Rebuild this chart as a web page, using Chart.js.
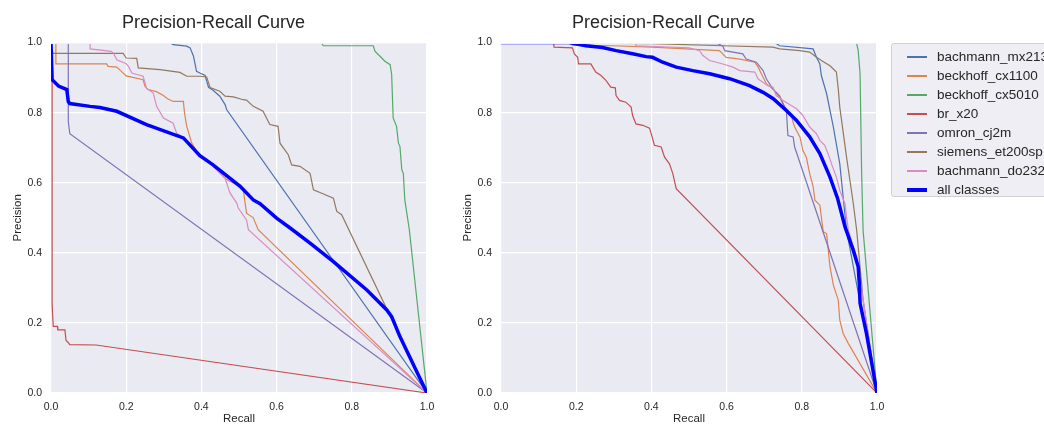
<!DOCTYPE html>
<html>
<head>
<meta charset="utf-8">
<script src="https://cdn.jsdelivr.net/npm/chart.js@4.4.1/dist/chart.umd.min.js"></script>
<style>
  html, body { margin: 0; padding: 0; background: #fff; }
  body { width: 1044px; height: 426px; overflow: hidden; position: relative; font-family: 'Liberation Sans', Arial, sans-serif; }
  canvas { position: absolute; top: 0; }
  #left { left: 0; }
  #right { left: 450px; }
  #legend {
    position: absolute; left: 891px; top: 43px; width: 175px; height: 154px;
    background: #eeeef4; border: 1px solid #cfcfd6; border-radius: 3px;
    padding-top: 3px; box-sizing: border-box;
  }
  .row { height: 19px; display: flex; align-items: center; font-size: 13.5px; color: #262626; white-space: nowrap; }
  .swatch { width: 20px; margin: 0 10px 0 15px; flex: none; }
</style>
</head>
<body>
<canvas id="left" width="445" height="426"></canvas>
<canvas id="right" width="445" height="426"></canvas>
<div id="legend"></div>
<script>
// class names + colours (seaborn deep)
const CLASSES = ['bachmann_mx213', 'beckhoff_cx1100', 'beckhoff_cx5010', 'br_x20', 'omron_cj2m', 'siemens_et200sp', 'bachmann_do232'];
const COLORS = ['#4C72B0', '#DD8452', '#55A868', '#C44E52', '#8172B3', '#937860', '#DA8BC3'];
const TICKS = [0, 0.2, 0.4, 0.6, 0.8, 1.0];

// left chart curves, [recall, precision]
const mx213A = [[0,1],[0.316,1],[0.325,0.994],[0.361,0.99],[0.37,0.985],[0.379,0.961],[0.387,0.918],[0.396,0.913],[0.41,0.906],[0.414,0.89],[0.419,0.872],[0.431,0.864],[0.449,0.847],[0.463,0.823],[0.467,0.809],[1,0]];
const cx1100A = [[0,1],[0.013,1],[0.013,0.939],[0.148,0.939],[0.152,0.932],[0.175,0.93],[0.19,0.915],[0.2,0.905],[0.245,0.894],[0.25,0.875],[0.258,0.866],[0.28,0.86],[0.298,0.85],[0.31,0.84],[0.325,0.832],[0.352,0.832],[0.355,0.8],[0.361,0.761],[0.374,0.714],[0.396,0.675],[0.43,0.65],[0.467,0.609],[0.511,0.585],[0.515,0.551],[0.52,0.513],[0.538,0.5],[0.551,0.466],[1,0]];
const cx5010A = [[0,1],[0.538,0.998],[0.72,0.998],[0.724,0.991],[0.857,0.991],[0.862,0.975],[0.875,0.961],[0.888,0.947],[0.902,0.937],[0.906,0.909],[0.91,0.785],[0.919,0.761],[0.924,0.713],[0.928,0.704],[0.933,0.637],[0.937,0.627],[0.941,0.551],[0.953,0.466],[1,0]];
const brx20A = [[0,1],[0.003,0.88],[0.003,0.25],[0.006,0.19],[0.017,0.19],[0.018,0.18],[0.037,0.18],[0.04,0.15],[0.045,0.145],[0.05,0.138],[0.12,0.137],[1,0]];
const cj2mA = [[0,1],[0.046,1],[0.046,0.775],[0.05,0.74],[1,0]];
const et200A = [[0,1],[0.005,0.969],[0.192,0.969],[0.2,0.956],[0.228,0.955],[0.232,0.928],[0.29,0.923],[0.343,0.915],[0.361,0.904],[0.396,0.904],[0.414,0.902],[0.423,0.872],[0.449,0.861],[0.463,0.847],[0.485,0.845],[0.511,0.837],[0.52,0.836],[0.538,0.818],[0.564,0.804],[0.582,0.766],[0.604,0.761],[0.609,0.713],[0.631,0.68],[0.64,0.651],[0.662,0.647],[0.689,0.627],[0.698,0.58],[0.72,0.57],[0.751,0.556],[0.76,0.518],[0.773,0.509],[1,0]];
const do232A = [[0,1],[0.104,1],[0.104,0.982],[0.16,0.975],[0.166,0.97],[0.175,0.951],[0.2,0.94],[0.206,0.932],[0.215,0.913],[0.245,0.904],[0.254,0.87],[0.272,0.856],[0.281,0.818],[0.299,0.785],[0.325,0.77],[0.334,0.742],[0.352,0.728],[0.37,0.713],[0.387,0.685],[0.396,0.68],[0.431,0.647],[0.463,0.613],[0.476,0.571],[0.494,0.542],[0.498,0.528],[0.52,0.494],[0.525,0.466],[1,0]];
const allA = [[0,1],[0.003,0.894],[0.02,0.876],[0.042,0.866],[0.046,0.832],[0.05,0.826],[0.104,0.818],[0.13,0.815],[0.175,0.804],[0.254,0.766],[0.352,0.728],[0.396,0.677],[0.431,0.651],[0.503,0.59],[0.538,0.551],[0.556,0.54],[0.6,0.499],[0.636,0.471],[0.689,0.428],[0.751,0.375],[0.84,0.294],[0.893,0.237],[0.906,0.218],[0.928,0.161],[1,0]];

// right chart curves
const mx213B = [[0,1],[0.728,1],[0.741,0.991],[0.83,0.982],[0.839,0.958],[0.848,0.939],[0.852,0.906],[0.866,0.854],[0.884,0.759],[0.901,0.654],[0.919,0.464],[1,0]];
const cx1100B = [[0,1],[0.18,1],[0.19,0.993],[0.297,0.991],[0.403,0.987],[0.581,0.977],[0.599,0.958],[0.635,0.953],[0.675,0.944],[0.684,0.93],[0.697,0.901],[0.706,0.882],[0.723,0.868],[0.741,0.849],[0.759,0.806],[0.773,0.787],[0.781,0.759],[0.795,0.731],[0.803,0.692],[0.812,0.673],[0.821,0.626],[0.83,0.59],[0.835,0.55],[0.848,0.536],[0.857,0.46],[0.866,0.455],[0.875,0.36],[0.884,0.308],[0.897,0.265],[0.901,0.208],[0.91,0.17],[0.924,0.141],[1,0]];
const cx5010B = [[0,1],[0.928,1],[0.946,0.997],[0.95,0.977],[0.955,0.911],[0.959,0.635],[0.963,0.464],[1,0]];
const brx20B = [[0,1],[0.14,1],[0.141,0.987],[0.19,0.985],[0.195,0.968],[0.204,0.958],[0.206,0.939],[0.239,0.939],[0.244,0.93],[0.252,0.916],[0.266,0.906],[0.279,0.892],[0.292,0.873],[0.304,0.871],[0.306,0.849],[0.315,0.835],[0.332,0.83],[0.346,0.816],[0.35,0.792],[0.359,0.768],[0.377,0.764],[0.395,0.756],[0.402,0.731],[0.408,0.707],[0.426,0.702],[0.435,0.673],[0.448,0.654],[0.457,0.626],[0.466,0.583],[1,0]];
const cj2mB = [[0,1],[0.577,0.997],[0.59,0.99],[0.595,0.977],[0.643,0.968],[0.652,0.953],[0.679,0.944],[0.697,0.92],[0.706,0.896],[0.723,0.868],[0.741,0.845],[0.759,0.806],[0.763,0.735],[0.777,0.731],[0.781,0.702],[1,0]];
const et200B = [[0,1],[0.4,0.997],[0.59,0.991],[0.723,0.987],[0.741,0.982],[0.795,0.977],[0.821,0.973],[0.839,0.958],[0.852,0.949],[0.875,0.934],[0.892,0.916],[0.897,0.868],[0.901,0.816],[0.919,0.673],[0.937,0.54],[0.946,0.464],[0.963,0.265],[1,0]];
const do232B = [[0,1],[0.355,1],[0.36,0.991],[0.5,0.985],[0.528,0.977],[0.537,0.963],[0.555,0.949],[0.59,0.939],[0.617,0.93],[0.635,0.92],[0.675,0.916],[0.684,0.896],[0.71,0.877],[0.723,0.873],[0.732,0.849],[0.75,0.835],[0.786,0.811],[0.803,0.792],[0.821,0.759],[0.839,0.74],[0.848,0.721],[0.861,0.707],[0.87,0.683],[0.879,0.654],[0.892,0.616],[0.901,0.578],[0.915,0.54],[0.919,0.502],[0.924,0.464],[0.937,0.417],[0.946,0.389],[1,0]];
const allB = [[0,1],[0.181,1],[0.226,0.991],[0.27,0.986],[0.306,0.977],[0.35,0.968],[0.386,0.96],[0.403,0.958],[0.43,0.944],[0.466,0.93],[0.51,0.92],[0.555,0.911],[0.608,0.897],[0.661,0.877],[0.697,0.858],[0.724,0.84],[0.759,0.806],[0.786,0.778],[0.821,0.731],[0.848,0.683],[0.875,0.616],[0.895,0.556],[0.915,0.474],[0.937,0.407],[0.95,0.36],[0.953,0.312],[0.955,0.256],[0.972,0.17],[1,0]];

const LEFT = [mx213A, cx1100A, cx5010A, brx20A, cj2mA, et200A, do232A];
const RIGHT = [mx213B, cx1100B, cx5010B, brx20B, cj2mB, et200B, do232B];

const FONT = "'Liberation Sans', Arial, sans-serif";
const TEXT = '#262626';

// seaborn-ish plot background
const bgPlugin = {
  id: 'bg',
  beforeDraw(c){
    const a = c.chartArea, g = c.ctx;
    g.save();
    g.fillStyle = '#EAEAF2';
    g.fillRect(a.left, a.top, a.right - a.left, a.bottom - a.top);
    g.restore();
  }
};

function toXY(arr){ return arr.map(p => ({ x: p[0], y: p[1] })); }

function buildDatasets(curves, all){
  const ds = curves.map((c, i) => ({
    label: CLASSES[i],
    data: toXY(c),
    borderColor: COLORS[i],
    borderWidth: 1.2,
    order: CLASSES.length - i
  }));
  ds.push({ label: 'all classes', data: toXY(all), borderColor: '#0000FF', borderWidth: 3.5, order: 0 });
  return ds;
}

function axis(title, isY){
  return {
    type: 'linear', min: 0, max: 1,
    afterBuildTicks: s => { s.ticks = TICKS.map(v => ({ value: v })); },
    afterFit: s => { if (isY) s.width = 51; else s.height = 33; },
    ticks: { color: TEXT, font: { family: FONT, size: 10.5 }, padding: isY ? 9 : 8, callback: v => v.toFixed(1) },
    grid: { color: '#ffffff', lineWidth: 1.2, drawTicks: false },
    border: { display: false },
    title: { display: true, text: title, color: TEXT, font: { family: FONT, size: 11.5 }, padding: isY ? { top: 11, bottom: 0 } : { top: 0, bottom: 0 } }
  };
}

function makeChart(id, datasets){
  return new Chart(document.getElementById(id), {
    type: 'scatter',
    data: { datasets },
    options: {
      responsive: false,
      animation: false,
      devicePixelRatio: 1,
      layout: { padding: { left: 0, right: 18, top: 0, bottom: 0 } },
      datasets: { scatter: { showLine: true, pointRadius: 0, tension: 0, clip: { left: 0, top: -1.5, right: 0, bottom: 0 } } },
      plugins: {
        legend: { display: false },
        tooltip: { enabled: false },
        title: { display: true, text: 'Precision-Recall Curve', color: TEXT, font: { family: FONT, size: 18, weight: 'normal' }, padding: { top: 12, bottom: 9 } }
      },
      scales: { x: axis('Recall', false), y: axis('Precision', true) }
    },
    plugins: [bgPlugin]
  });
}

makeChart('left', buildDatasets(LEFT, allA));
const rightChart = makeChart('right', buildDatasets(RIGHT, allB));

// legend beside the right chart
const legendEl = document.getElementById('legend');
rightChart.data.datasets.forEach(d => {
  const row = document.createElement('div');
  row.className = 'row';
  const sw = document.createElement('div');
  sw.className = 'swatch';
  sw.style.height = (d.borderWidth > 2 ? 4 : 2) + 'px';
  sw.style.background = d.borderColor;
  const tx = document.createElement('span');
  tx.textContent = d.label;
  row.appendChild(sw); row.appendChild(tx);
  legendEl.appendChild(row);
});
</script>
</body>
</html>
